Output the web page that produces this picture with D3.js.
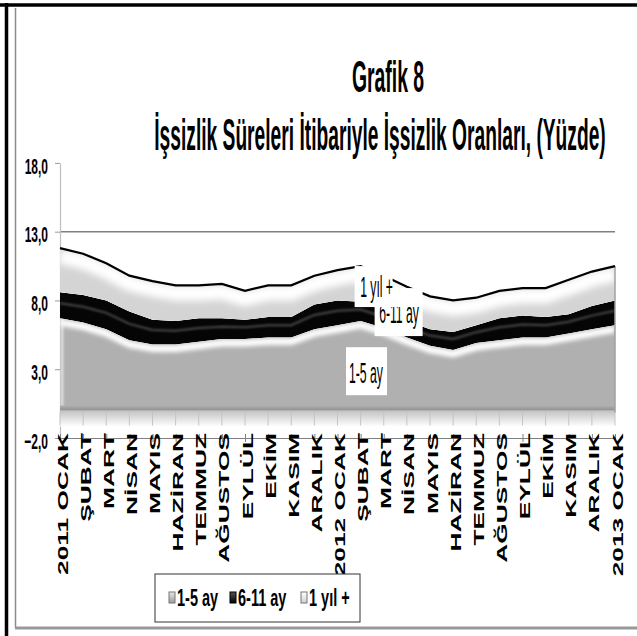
<!DOCTYPE html>
<html>
<head>
<meta charset="utf-8">
<script src="https://cdn.jsdelivr.net/npm/d3@7"></script>
<style>
  body { margin: 0; background: #fff; }
  text { font-family: "Liberation Sans", Arial, sans-serif; }
</style>
</head>
<body>
<div id="chart"></div>
<script>
// categories
const months = ["2011 OCAK", "ŞUBAT", "MART", "NİSAN", "MAYIS", "HAZİRAN", "TEMMUZ", "AĞUSTOS", "EYLÜL", "EKİM", "KASIM", "ARALIK",
  "2012 OCAK", "ŞUBAT", "MART", "NİSAN", "MAYIS", "HAZİRAN", "TEMMUZ", "AĞUSTOS", "EYLÜL", "EKİM", "KASIM", "ARALIK", "2013 OCAK"];

// series values (%)
const ay1_5  = [6.7, 6.4, 5.9, 5.1, 4.8, 4.8, 5.0, 5.2, 5.2, 5.3, 5.3, 5.9, 6.2, 6.5, 6.0, 5.3, 4.7, 4.4, 4.9, 5.1, 5.3, 5.3, 5.6, 5.9, 6.2];
const ay6_11 = [1.9, 2.0, 2.1, 2.1, 1.8, 1.7, 1.7, 1.5, 1.4, 1.5, 1.5, 1.8, 1.8, 1.4, 1.3, 1.2, 1.2, 1.3, 1.3, 1.6, 1.6, 1.5, 1.4, 1.7, 1.8];
const yil1   = [3.2, 3.0, 2.7, 2.6, 2.8, 2.6, 2.4, 2.5, 2.1, 2.3, 2.3, 2.1, 2.2, 2.6, 2.5, 2.5, 2.4, 2.3, 2.0, 2.0, 2.0, 2.1, 2.5, 2.5, 2.5];

const seriesNames = ["1-5 ay", "6-11 ay", "1 yıl +"];
const yTicks = [-2, 3, 8, 13, 18];

const width = 637, height = 636;

let svg = d3.select("#chart")
  .append("svg")
  .attr("width", width)
  .attr("height", height);

let defs = svg.append("defs");

let blur = function (id, sd) {
  defs.append("filter").attr("id", id)
    .attr("filterUnits", "userSpaceOnUse")
    .attr("x", 0).attr("y", 0).attr("width", width).attr("height", height)
    .append("feGaussianBlur").attr("stdDeviation", sd);
};
blur("b1", 1.0);
blur("b2", 2.0);
blur("b3", 3.5);

let vgrad = function (id, stops) {
  let g = defs.append("linearGradient").attr("id", id)
    .attr("x1", 0).attr("y1", 0).attr("x2", 0).attr("y2", 1);
  stops.forEach(function (s) {
    g.append("stop").attr("offset", s[0]).attr("stop-color", s[1]);
  });
};
vgrad("floorGrad", [[0, "#c2c2c2"], [1, "#ffffff"]]);
vgrad("baseGrad", [[0, "#b0b0b0"], [1, "#8a8a8a"]]);
vgrad("lg1", [[0, "#e8e8e8"], [1, "#9a9a9a"]]);
vgrad("lg2", [[0, "#555"], [1, "#000"]]);
vgrad("lg3", [[0, "#ffffff"], [1, "#d0d0d0"]]);

// frame
svg.append("line").attr("x1", 0).attr("x2", width).attr("y1", 5).attr("y2", 5)
  .attr("stroke", "#000").attr("stroke-width", 3.5);
svg.append("line").attr("x1", 6.5).attr("x2", 6.5).attr("y1", 3).attr("y2", height)
  .attr("stroke", "#000").attr("stroke-width", 3.5);
svg.append("line").attr("x1", 15.5).attr("x2", 15.5).attr("y1", 8).attr("y2", 628)
  .attr("stroke", "#8c8c8c").attr("stroke-width", 1.5);
svg.append("line").attr("x1", 15).attr("x2", width).attr("y1", 628).attr("y2", 628)
  .attr("stroke", "#999").attr("stroke-width", 3);

// title
svg.append("text")
  .attr("transform", "translate(388,92) scale(1,2.25)")
  .attr("text-anchor", "middle")
  .style("font-size", "19.4px").style("font-weight", "bold")
  .text("Grafik 8");
svg.append("text")
  .attr("transform", "translate(380,150) scale(0.99,2.25)")
  .attr("text-anchor", "middle")
  .style("font-size", "19.4px").style("font-weight", "bold")
  .text("İşsizlik Süreleri İtibariyle İşsizlik Oranları, (Yüzde)");

let x = d3.scalePoint()
  .domain(d3.range(months.length))
  .range([60, 615]);

let y = d3.scaleLinear()
  .domain([-2, 18])
  .range([438, 162.9]);

// gridline at 13
svg.append("line")
  .attr("x1", x(0)).attr("x2", x(months.length - 1))
  .attr("y1", y(13)).attr("y2", y(13))
  .attr("stroke", "#808080").attr("stroke-width", 1.5);

// y axis
let fmt = function (d) { return d3.format(".1f")(d).replace(".", ","); };
let yAxis = svg.append("g")
  .attr("transform", "translate(" + x(0) + ",0)")
  .call(d3.axisLeft(y).tickValues(yTicks).tickSize(5).tickSizeOuter(0).tickFormat(fmt));
yAxis.select(".domain").attr("stroke", "#bfbfbf").attr("stroke-width", 1.2);
yAxis.selectAll(".tick line").attr("stroke", "#999");
yAxis.selectAll(".tick text")
  .attr("x", -12)
  .attr("transform", "translate(0,3) scale(1,1.85)")
  .style("font-size", "12px").style("font-weight", "bold")
  .attr("fill", "#000");

// floor under the areas
svg.append("rect")
  .attr("x", x(0)).attr("width", x(months.length - 1) - x(0))
  .attr("y", y(0)).attr("height", 16)
  .attr("fill", "url(#floorGrad)");
svg.selectAll(".floortick")
  .data(d3.range(months.length))
  .enter().append("line")
  .attr("class", "floortick")
  .attr("x1", function (d) { return x(d); }).attr("x2", function (d) { return x(d); })
  .attr("y1", y(0) + 1).attr("y2", y(0) + 15)
  .attr("stroke", "#c4c4c4");

// stacked data
let table = months.map(function (m, i) {
  return { i: i, a: ay1_5[i], b: ay6_11[i], c: yil1[i] };
});
let stacked = d3.stack().keys(["a", "b", "c"])(table);

let area = d3.area()
  .x(function (d) { return x(d.data.i); })
  .y0(function (d) { return y(d[0]); })
  .y1(function (d) { return y(d[1]); });
let topLine = d3.line()
  .x(function (d) { return x(d.data.i); })
  .y(function (d) { return y(d[1]); });
let midLine = d3.line()
  .x(function (d) { return x(d.data.i); })
  .y(function (d) { return y((d[0] + d[1]) / 2); });

let fills = ["#b0b0b0", "#050505", "#d4d4d4"];

stacked.forEach(function (s, k) {
  defs.append("clipPath").attr("id", "clip" + k)
    .append("path").attr("d", area(s));

  let g = svg.append("g").attr("clip-path", "url(#clip" + k + ")");
  g.append("path").attr("d", area(s)).attr("fill", fills[k]);

  if (k === 0) {
    // bevel highlight along the top edge
    g.append("path").attr("d", topLine(s))
      .attr("transform", "translate(0,4)")
      .attr("fill", "none").attr("stroke", "#fff").attr("stroke-width", 7)
      .attr("filter", "url(#b2)");
    g.append("line")
      .attr("x1", x(0) + 2).attr("x2", x(0) + 2).attr("y1", y(0)).attr("y2", y(8))
      .attr("stroke", "#fff").attr("stroke-width", 3).attr("opacity", 0.6)
      .attr("filter", "url(#b1)");
    g.append("rect")
      .attr("x", x(0)).attr("width", x(months.length - 1) - x(0))
      .attr("y", y(0) - 5).attr("height", 6)
      .attr("fill", "url(#baseGrad)");
  } else if (k === 1) {
    g.append("path").attr("d", midLine(s))
      .attr("transform", "translate(0,-2)")
      .attr("fill", "none").attr("stroke", "#4a4a4a").attr("stroke-width", 2)
      .attr("filter", "url(#b1)");
  } else {
    g.append("path").attr("d", topLine(s))
      .attr("transform", "translate(0,8)")
      .attr("fill", "none").attr("stroke", "#fff").attr("stroke-width", 15)
      .attr("filter", "url(#b3)");
  }
});

// right side edge
let last = stacked[2][months.length - 1];
svg.append("line")
  .attr("x1", x(months.length - 1)).attr("x2", x(months.length - 1))
  .attr("y1", y(last[1])).attr("y2", y(0) + 2)
  .attr("stroke", "#a0a0a0").attr("stroke-width", 1.5);

// top outline
svg.append("path").attr("d", topLine(stacked[2]))
  .attr("fill", "none").attr("stroke", "#000").attr("stroke-width", 2.2);

// x axis
let xAxis = svg.append("g")
  .attr("transform", "translate(0," + y(-2) + ")")
  .call(d3.axisBottom(x).tickSizeOuter(0).tickFormat(function (i) { return months[i]; }));
xAxis.select(".domain").attr("stroke", "#808080");
xAxis.selectAll(".tick line").attr("y1", -4).attr("y2", 4).attr("stroke", "#808080");
xAxis.selectAll(".tick text")
  .attr("x", 0).attr("y", 0).attr("dy", 0)
  .attr("text-anchor", "end")
  .attr("transform", "translate(7,-5) rotate(-90) scale(1.88,1)")
  .style("font-size", "14px").style("font-weight", "bold")
  .attr("fill", "#000");

// in-chart series labels
let labelStyle = function (t) {
  t.style("font-size", "12.2px").attr("fill", "#000");
};

// 6-11 ay box; the top of its text is hidden under the 1 yıl + box
let boxB = { x: x(13) + 14, y: y(8.9), w: 48, h: 48 };
let boxA = { x: x(13) - 6, y: y(10.5), w: 38, h: 41 };
defs.append("clipPath").attr("id", "lblClip")
  .append("rect")
  .attr("x", boxB.x).attr("y", boxA.y + boxA.h)
  .attr("width", boxB.w).attr("height", boxB.y + boxB.h - boxA.y - boxA.h);

svg.append("rect").attr("x", boxB.x).attr("y", boxB.y).attr("width", boxB.w).attr("height", boxB.h).attr("fill", "#fff");
svg.append("g").attr("clip-path", "url(#lblClip)")
  .append("text")
  .attr("transform", "translate(" + (boxB.x + 4.5) + "," + (boxB.y + 35) + ") scale(1,2.4)")
  .call(labelStyle).text(seriesNames[1]);

svg.append("rect").attr("x", boxA.x).attr("y", boxA.y).attr("width", boxA.w).attr("height", boxA.h).attr("fill", "#fff");
svg.append("text")
  .attr("transform", "translate(" + (boxA.x + 5.5) + "," + (boxA.y + 31) + ") scale(1,2.4)")
  .call(labelStyle).text(seriesNames[2]);

svg.append("rect").attr("x", x(12) + 8.5).attr("y", y(4.6)).attr("width", 41).attr("height", 48).attr("fill", "#fff");
svg.append("text")
  .attr("transform", "translate(" + (x(12) + 11.5) + "," + (y(4.6) + 36) + ") scale(1,2.4)")
  .call(labelStyle).text(seriesNames[0]);

// legend
let legend = svg.append("g").attr("transform", "translate(155,574)");
legend.append("rect").attr("width", 205).attr("height", 48)
  .attr("fill", "#fff").attr("stroke", "#333").attr("stroke-width", 1);
let legX = [14, 75, 146];
let legFill = ["url(#lg1)", "url(#lg2)", "url(#lg3)"];
seriesNames.forEach(function (n, k) {
  legend.append("rect")
    .attr("x", legX[k]).attr("y", 18).attr("width", 6).attr("height", 11)
    .attr("fill", legFill[k]).attr("stroke", k === 1 ? "#000" : "#777").attr("stroke-width", 1);
  legend.append("text")
    .attr("transform", "translate(" + (legX[k] + 8) + ",32) scale(1,1.6)")
    .style("font-size", "14.5px").style("font-weight", "bold")
    .text(n);
});
</script>
</body>
</html>
